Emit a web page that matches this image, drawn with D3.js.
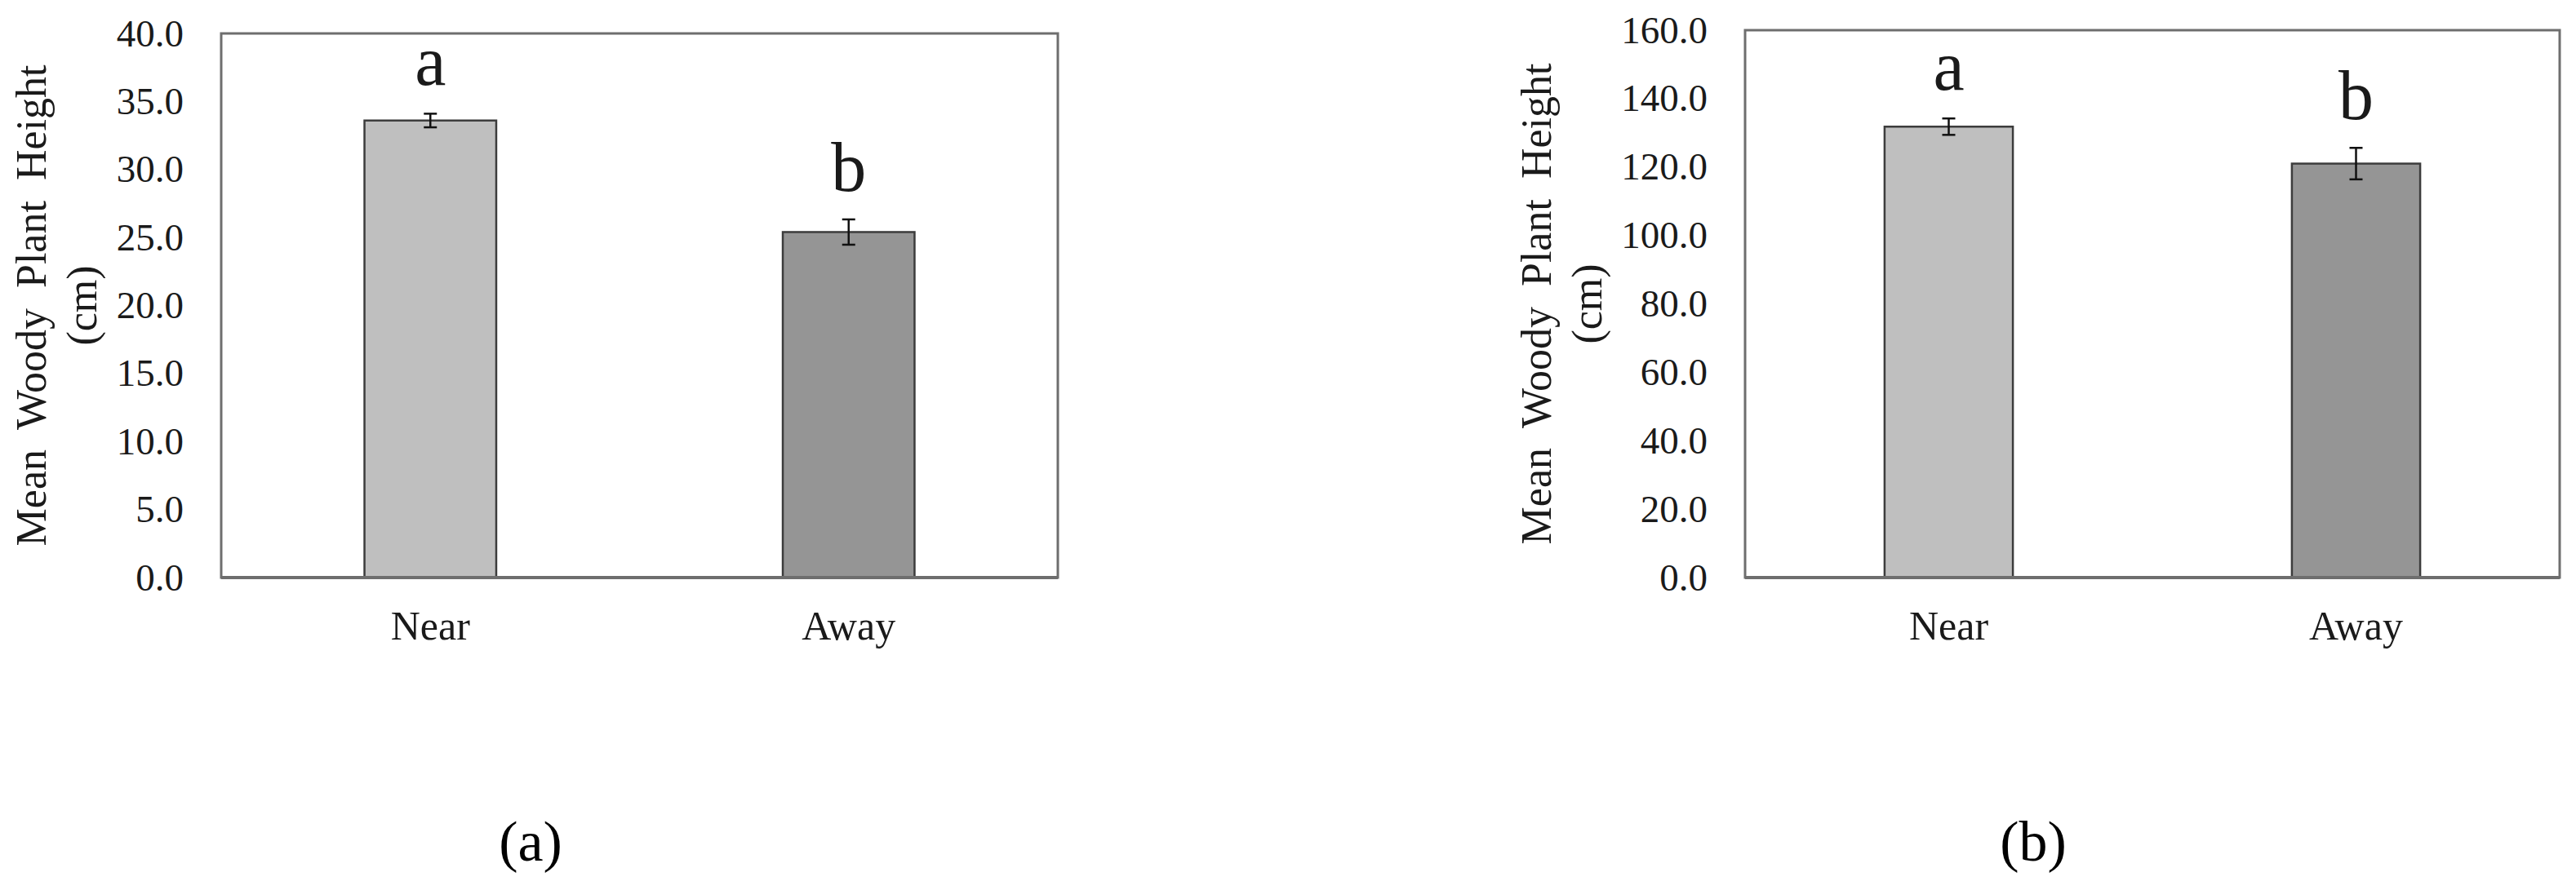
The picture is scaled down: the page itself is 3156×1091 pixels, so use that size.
<!DOCTYPE html>
<html>
<head>
<meta charset="utf-8">
<script src="https://cdn.jsdelivr.net/npm/d3@7"></script>
<style>
  html, body { margin: 0; padding: 0; background: #ffffff; }
  svg { display: block; }
  text { font-family: "Liberation Serif", "Times New Roman", serif; fill: #1a1a1a; }
</style>
</head>
<body>
<svg id="chart" width="3156" height="1091"></svg>
<script>
// ---- data ----
const categories = ["Near", "Away"];
const meansA = [33.6, 25.4];
const errorsA = [0.5, 0.93];
const lettersA = ["a", "b"];
const ticksA = [0, 5, 10, 15, 20, 25, 30, 35, 40];

const meansB = [131.8, 121.0];
const errorsB = [2.4, 4.6];
const lettersB = ["a", "b"];
const ticksB = [0, 20, 40, 60, 80, 100, 120, 140, 160];

const yTitleLines = ["Mean Woody Plant Height", "(cm)"];
const panelLabels = ["(a)", "(b)"];
const barColors = ["#bfbfbf", "#959595"];

// ---- layout ----
const panels = [
  { means: meansA, errors: errorsA, letters: lettersA, ticks: ticksA,
    x0: 271, x1: 1296, y0: 41, y1: 708, titleX: 56, labelX: 650 },
  { means: meansB, errors: errorsB, letters: lettersB, ticks: ticksB,
    x0: 2138, x1: 3136, y0: 37, y1: 708, titleX: 1900, labelX: 2491 }
];

const svg = d3.select("#chart");
svg.append("rect").attr("width", 3156).attr("height", 1091).attr("fill", "#fff");

panels.forEach((p, pi) => {
  const g = svg.append("g");
  const x = d3.scaleBand().domain(categories).range([p.x0, p.x1]).padding(0);
  const y = d3.scaleLinear()
    .domain([0, p.ticks[p.ticks.length - 1]])
    .range([p.y1, p.y0]);
  const barW = x.bandwidth() * 0.315;

  // plot frame
  g.append("rect")
    .attr("x", p.x0).attr("y", p.y0)
    .attr("width", p.x1 - p.x0).attr("height", p.y1 - p.y0)
    .attr("fill", "#fff").attr("stroke", "#6e6e6e").attr("stroke-width", 3);

  // bars
  g.selectAll("rect.bar").data(categories).enter().append("rect")
    .attr("class", "bar")
    .attr("x", d => x(d) + x.bandwidth() / 2 - barW / 2)
    .attr("width", barW)
    .attr("y", (d, i) => y(p.means[i]))
    .attr("height", (d, i) => y(0) - y(p.means[i]))
    .attr("fill", (d, i) => barColors[i])
    .attr("stroke", "#3c3c3c").attr("stroke-width", 2.5);

  // bottom axis line (slightly heavier)
  g.append("line")
    .attr("x1", p.x0).attr("x2", p.x1)
    .attr("y1", y(0)).attr("y2", y(0))
    .attr("stroke", "#6e6e6e").attr("stroke-width", 4);

  // error bars
  const capW = 16;
  categories.forEach((c, i) => {
    const cx = x(c) + x.bandwidth() / 2;
    const top = y(p.means[i] + p.errors[i]);
    const bot = y(p.means[i] - p.errors[i]);
    g.append("line").attr("x1", cx).attr("x2", cx).attr("y1", top).attr("y2", bot)
      .attr("stroke", "#111").attr("stroke-width", 2.5);
    g.append("line").attr("x1", cx - capW / 2).attr("x2", cx + capW / 2).attr("y1", top).attr("y2", top)
      .attr("stroke", "#111").attr("stroke-width", 2.5);
    g.append("line").attr("x1", cx - capW / 2).attr("x2", cx + capW / 2).attr("y1", bot).attr("y2", bot)
      .attr("stroke", "#111").attr("stroke-width", 2.5);
    // significance letters
    g.append("text")
      .attr("x", cx).attr("y", top - 35)
      .attr("text-anchor", "middle")
      .style("font-size", "86px")
      .text(p.letters[i]);
  });

  // y axis
  const yAxis = d3.axisLeft(y).tickValues(p.ticks).tickSize(0).tickPadding(46)
    .tickFormat(d3.format(".1f"));
  const ya = g.append("g").attr("transform", `translate(${p.x0},0)`).call(yAxis);
  ya.select(".domain").remove();
  ya.selectAll("text").style("font-size", "47px").style("font-family", "Liberation Serif, Times New Roman, serif")
    .attr("fill", "#1a1a1a");

  // x axis
  const xAxis = d3.axisBottom(x).tickSize(0).tickPadding(40);
  const xa = g.append("g").attr("transform", `translate(0,${p.y1})`).call(xAxis);
  xa.select(".domain").remove();
  xa.selectAll("text").style("font-size", "50px").style("font-family", "Liberation Serif, Times New Roman, serif")
    .attr("fill", "#1a1a1a");

  // y title
  const cy = (p.y0 + p.y1) / 2;
  yTitleLines.forEach((line, li) => {
    g.append("text")
      .attr("transform", `translate(${p.titleX + li * 62},${cy}) rotate(-90)`)
      .attr("text-anchor", "middle")
      .style("font-size", "52px")
      .style("word-spacing", "12px")
      .text(line);
  });

  // panel label
  svg.append("text")
    .attr("x", p.labelX).attr("y", 1055)
    .attr("text-anchor", "middle")
    .style("font-size", "70px")
    .style("fill", "#000")
    .text(panelLabels[pi]);
});
</script>
</body>
</html>
